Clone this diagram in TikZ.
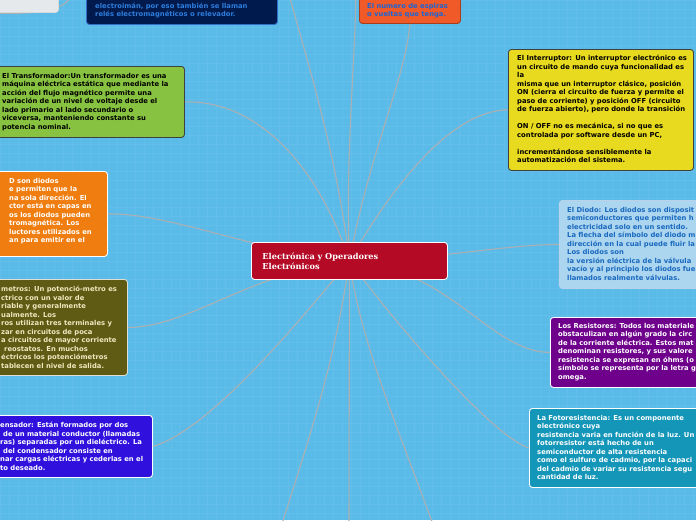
\documentclass[tikz,border=0pt]{standalone}
\usepackage{fontspec}
\usepackage{xcolor}
\usepackage{tikz}
\usetikzlibrary{positioning,backgrounds}

\newfontfamily\boxfont{DejaVu Sans}
\newfontfamily\titlefont{DejaVu Serif}

\definecolor{skyback}{RGB}{90,187,232}
\definecolor{linkgray}{RGB}{172,176,180}
\definecolor{titlered}{RGB}{180,10,38}
\definecolor{navyfill}{RGB}{0,26,77}
\definecolor{navyline}{RGB}{50,110,200}
\definecolor{navytext}{RGB}{47,125,220}
\definecolor{coilfill}{RGB}{240,90,40}
\definecolor{coiltext}{RGB}{30,100,210}
\definecolor{trafofill}{RGB}{135,195,65}
\definecolor{switchfill}{RGB}{232,218,30}
\definecolor{ledfill}{RGB}{240,125,15}
\definecolor{diodefill}{RGB}{172,213,240}
\definecolor{diodetext}{RGB}{25,105,190}
\definecolor{resfill}{RGB}{110,0,140}
\definecolor{potfill}{RGB}{95,90,20}
\definecolor{pottext}{RGB}{240,232,190}
\definecolor{capfill}{RGB}{48,16,220}
\definecolor{ldrfill}{RGB}{20,150,185}
\definecolor{notefill}{RGB}{230,233,235}

\begin{document}
\begin{tikzpicture}[
  x=1pt, y=-1pt,
  every node/.style={inner sep=0pt},
  topic/.style={draw=white, line width=0.9pt, rounded corners=3pt,
                anchor=north west},
  txt/.style={anchor=north west, align=left,
              font={\boxfont\bfseries\fontsize{6.8}{8.5}\selectfont}},
  link/.style={draw=linkgray, line width=1.1pt}
]
\useasboundingbox (0,0) rectangle (696,520);

%% --- Central topic ---------------------------------------------
\node[topic, fill=titlered, minimum width=196pt, minimum height=37pt,
      text width=174pt, align=left, text=white,
      font={\titlefont\bfseries\fontsize{8.2}{10}\selectfont}]
      (ctr) at (251,242)
      {Electrónica y Operadores\\Electrónicos};

%% --- Top row (cut by the page) ---------------------------------
\node[topic, fill=notefill, draw=white!85!black,
      minimum width=138pt, minimum height=52pt] (note) at (-80,-40) {};

\node[topic, fill=navyfill, draw=navyline,
      minimum width=191pt, minimum height=64pt] (relay) at (86,-40) {};
\node[txt, text=navytext] (relaytxt) at (95,2.5)
     {electroimán, por eso también se llaman\\
      relés electromagnéticos o relevador.};

\node[topic, fill=coilfill, draw=coilfill!70!black,
      minimum width=101pt, minimum height=63pt] (coil) at (359,-40) {};
\node[txt, text=coiltext] (coiltxt) at (367,3)
     {El numero de espiras\\
      o vueltas que tenga.};

%% --- Left column -----------------------------------------------
\node[topic, fill=trafofill, draw=black!75,
      minimum width=192pt, minimum height=71pt] (trafo) at (-8,66) {};
\node[txt, text=black] (trafotxt) at (2,73)
     {El Transformador:Un transformador es una\\
      máquina eléctrica estática que mediante la\\
      acción del flujo magnético permite una\\
      variación de un nivel de voltaje desde el\\
      lado primario al lado secundario o\\
      viceversa, manteniendo constante su\\
      potencia nominal.};

\node[topic, fill=ledfill,
      minimum width=115pt, minimum height=85pt] (led) at (-8,171) {};
\node[txt, text=white] (ledtxt) at (9,178)
     {D son diodos\\
      e permiten que la\\
      na sola dirección. El\\
      ctor está en capas en\\
      os los diodos pueden\\
      tromagnética. Los\\
      luctores utilizados en\\
      an para emitir en el};

\node[topic, fill=potfill, draw=white!80!potfill,
      minimum width=135pt, minimum height=96pt] (pot) at (-8,279) {};
\node[txt, text=pottext] (pottxt) at (1,286)
     {metros: Un potenció-metro es\\
      ctrico con un valor de\\
      riable y generalmente\\
      ualmente. Los\\
      ros utilizan tres terminales y\\
      zar en circuitos de poca\\
      a circuitos de mayor corriente\\
      \hspace*{3pt}reostatos. En muchos\\
      éctricos los potenciómetros\\
      tablecen el nivel de salida.};

\node[topic, fill=capfill,
      minimum width=160pt, minimum height=62pt] (cap) at (-8,415) {};
\node[txt, text=white] (captxt) at (0,422)
     {ensador: Están formados por dos\\
      \hspace*{3pt}de un material conductor (llamadas\\
      ras) separadas por un dieléctrico. La\\
      \hspace*{3pt}del condensador consiste en\\
      nar cargas eléctricas y cederlas en el\\
      to deseado.};

%% --- Right column ----------------------------------------------
\node[topic, fill=switchfill, draw=black!75,
      minimum width=185pt, minimum height=121pt] (switch) at (508,49) {};
\node[txt, text=black] (switchtxt) at (517,55)
     {El Interruptor: Un interruptor electrónico es\\
      un circuito de mando cuya funcionalidad es\\
      la\\
      misma que un interruptor clásico, posición\\
      ON (cierra el circuito de fuerza y permite el\\
      paso de corriente) y posición OFF (circuito\\
      de fuerza abierto), pero donde la transición\\[8.5pt]
      ON / OFF no es mecánica, si no que es\\
      controlada por software desde un PC,\\[8.5pt]
      incrementándose sensiblemente la\\
      automatización del sistema.};

\node[topic, fill=diodefill, draw=white!70!diodetext,
      minimum width=160pt, minimum height=88pt] (diode) at (559,200) {};
\node[txt, text=diodetext] (diodetxt) at (567,207)
     {El Diodo: Los diodos son disposit\\
      semiconductores que permiten h\\
      electricidad solo en un sentido.\\
      La flecha del símbolo del diodo m\\
      dirección en la cual puede fluir la\\
      Los diodos son\\
      la versión eléctrica de la válvula\\
      vacío y al principio los diodos fue\\
      llamados realmente válvulas.};

\node[topic, fill=resfill,
      minimum width=160pt, minimum height=70pt] (res) at (550,317) {};
\node[txt, text=white] (restxt) at (558,323)
     {Los Resistores: Todos los materiale\\
      obstaculizan en algún grado la circ\\
      de la corriente eléctrica. Estos mat\\
      denominan resistores, y sus valore\\
      resistencia se expresan en óhms (o\\
      símbolo se representa por la letra g\\
      omega.};

\node[topic, fill=ldrfill,
      minimum width=180pt, minimum height=79pt] (ldr) at (529,408) {};
\node[txt, text=white] (ldrtxt) at (537,415)
     {La Fotoresistencia: Es un componente\\
      electrónico cuya\\
      resistencia varia en función de la luz. Un\\
      fotorresistor está hecho de un\\
      semiconductor de alta resistencia\\
      como el sulfuro de cadmio, por la capaci\\
      del cadmio de variar su resistencia segu\\
      cantidad de luz.};

%% --- Free ends off the page ------------------------------------
\coordinate (upA) at (284,-25);
\coordinate (upB) at (356,-20);
\coordinate (upC) at (78,-15);
\coordinate (downA) at (280,530);
\coordinate (downB) at (349,530);
\coordinate (downC) at (435,530);

%% --- Background and branches -----------------------------------
\begin{pgfonlayer}{background}
  \fill[skyback] (0,0) rectangle (696,520);
  \draw[white, opacity=0.06, step=9pt] (0,0) grid (696,520);

  \draw[link] (ctr.center) .. controls (335,140) and (300,40) .. (upA);
  \draw[link] (ctr.center) .. controls (345,150) and (356,60) .. (upB);
  \draw[link] (ctr.center) .. controls (370,150) and (405,80) .. (coil.south);
  \draw[link] (note.south) .. controls (50,15) and (68,10) .. (upC);

  \draw[link] (ctr.center) .. controls (320,170) and (260,100) .. (trafo.east);
  \draw[link] (ctr.center) .. controls (250,250) and (170,213) .. (led.east);
  \draw[link] (ctr.center) .. controls (250,272) and (190,327) .. (pot.east);
  \draw[link] (ctr.center) .. controls (300,320) and (210,430) .. (cap.east);

  \draw[link] (ctr.center) .. controls (390,190) and (450,110) .. (switch.west);
  \draw[link] (ctr.center) .. controls (450,258) and (500,245) .. (diode.west);
  \draw[link] (ctr.center) .. controls (450,268) and (490,352) .. (res.west);
  \draw[link] (ctr.center) .. controls (400,330) and (495,438) .. (ldr.west);

  \draw[link] (ctr.center) .. controls (335,360) and (312,430) .. (downA);
  \draw[link] (ctr.center) -- (downB);
  \draw[link] (ctr.center) .. controls (360,340) and (395,420) .. (downC);
\end{pgfonlayer}

\end{tikzpicture}
\end{document}
